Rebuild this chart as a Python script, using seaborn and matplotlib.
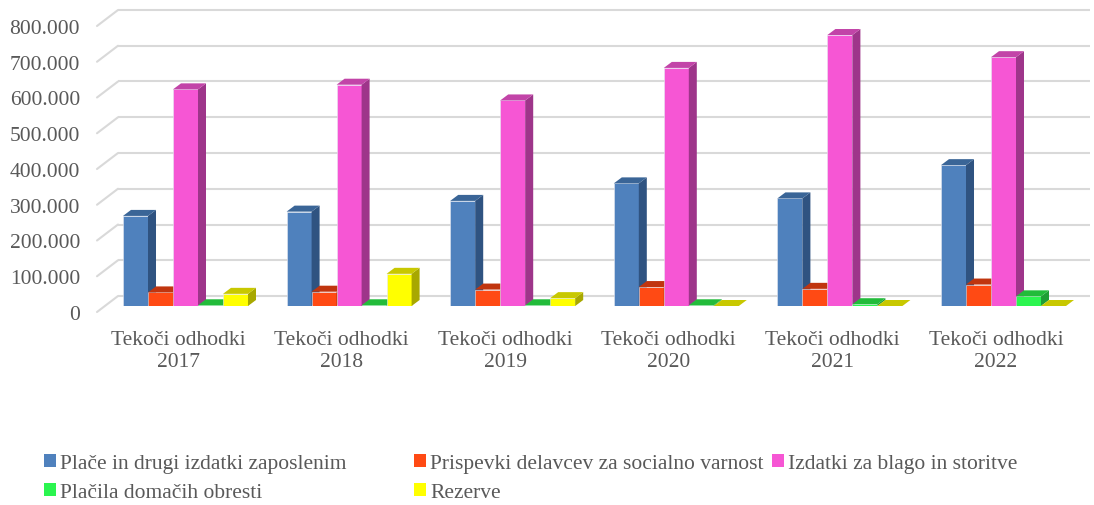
import numpy as np
import pandas as pd
import matplotlib
matplotlib.use("Agg")
import matplotlib.pyplot as plt
import matplotlib.transforms as mtransforms
from matplotlib.patches import Polygon, Patch
from matplotlib.ticker import FuncFormatter
import seaborn as sns

# ---------------- data ----------------
categories = ["Tekoči odhodki\n2017", "Tekoči odhodki\n2018", "Tekoči odhodki\n2019",
              "Tekoči odhodki\n2020", "Tekoči odhodki\n2021", "Tekoči odhodki\n2022"]
series_names = ["Plače in drugi izdatki zaposlenim",
                "Prispevki delavcev za socialno varnost",
                "Izdatki za blago in storitve",
                "Plačila domačih obresti",
                "Rezerve"]
place = [252000, 264000, 294000, 343000, 301000, 394000]
prispevki = [38000, 40000, 46000, 53000, 48000, 60000]
blago = [606000, 619000, 575000, 666000, 758000, 696000]
obresti = [2000, 2000, 2000, 2000, 5000, 27000]
rezerve = [34000, 90000, 22000, 0, 0, 0]
y_ticks = [0, 100000, 200000, 300000, 400000, 500000, 600000, 700000, 800000]

front_colors = ["#4F81BD", "#FF4A14", "#F656D4", "#2BF54F", "#FFFF00"]
side_colors = ["#2F5381", "#A8300C", "#9E358A", "#1F9E35", "#A8A800"]
top_colors = ["#3A6597", "#C0350F", "#C244A8", "#22BB3A", "#C8C800"]

values = [place, prispevki, blago, obresti, rezerve]
df = pd.DataFrame({
    "kategorija": categories * len(series_names),
    "serija": [s for s in series_names for _ in categories],
    "vrednost": [v for vals in values for v in vals],
})

# ---------------- style ----------------
sns.set_style("white")
plt.rcParams["font.family"] = ["Liberation Serif", "DejaVu Serif"]
TXT = "#595959"
FS = 15.5

W, H = 1094, 506
fig = plt.figure(figsize=(W / 100, H / 100), dpi=100)
fig.patch.set_facecolor("white")

# axes placement in pixels
ax_left, ax_w = 103.7, 981.6
ax_bottom, ax_h = 199, 286
ax = fig.add_axes([ax_left / W, ax_bottom / H, ax_w / W, ax_h / H])
ax.set_facecolor("none")

sns.barplot(data=df, x="kategorija", y="vrednost", hue="serija",
            hue_order=series_names, order=categories,
            palette=front_colors, width=0.764, legend=False,
            saturation=1, linewidth=0, ax=ax)

ax.set_xlim(-0.5, 5.5)
ax.set_ylim(0, 800000)
for s in ax.spines.values():
    s.set_visible(False)
ax.set_xlabel("")
ax.set_ylabel("")

px_x = ax_w / 6.0          # pixels per x unit
px_y = ax_h / 800000.0     # pixels per y unit


def dx(p):
    return p / px_x


def dy(p):
    return p / px_y


def px2x(p):
    return (p - ax_left) / px_x - 0.5


# ---------------- walls / gridlines ----------------
grid_c = "#D9D9D9"
for v in y_ticks:
    ax.plot([px2x(118), px2x(1090)], [v + dy(10), v + dy(10)], color=grid_c,
            lw=1.5, clip_on=False, zorder=0.5, solid_capstyle="butt")
    ax.plot([px2x(97), px2x(118)], [v - dy(6), v + dy(10)], color=grid_c,
            lw=1.5, clip_on=False, zorder=0.5)

# ---------------- 3D bar faces ----------------
ncat = len(categories)
ox, oy = dx(8), dy(6)
for i, bar in enumerate(ax.patches[: ncat * len(series_names)]):
    k = i // ncat
    x0, w, h = bar.get_x(), bar.get_width(), bar.get_height()
    z = 2 + 3 * k
    bar.set_zorder(z)
    bar.set_edgecolor("#E6E9F2")
    bar.set_linewidth(0.4)
    side = Polygon([(x0 + w, 0), (x0 + w + ox, oy), (x0 + w + ox, h + oy), (x0 + w, h)],
                   closed=True, facecolor=side_colors[k], edgecolor="none",
                   zorder=z + 1, clip_on=False)
    top = Polygon([(x0, h), (x0 + w, h), (x0 + w + ox, h + oy), (x0 + ox, h + oy)],
                  closed=True, facecolor=top_colors[k], edgecolor="none",
                  zorder=z + 2, clip_on=False)
    ax.add_patch(side)
    ax.add_patch(top)

# ---------------- ticks ----------------
ax.set_yticks(y_ticks)
ax.yaxis.set_major_formatter(FuncFormatter(lambda v, p: f"{v:,.0f}".replace(",", ".")))
ax.tick_params(axis="y", length=0, pad=17, labelsize=FS, labelcolor=TXT)
ax.tick_params(axis="x", length=0, pad=17, labelsize=FS, labelcolor=TXT)
off_y = mtransforms.ScaledTranslation(0, -6 / 100, fig.dpi_scale_trans)
for lab in ax.get_yticklabels():
    lab.set_transform(lab.get_transform() + off_y)
off_x = mtransforms.ScaledTranslation(-7.5 / 100, 0, fig.dpi_scale_trans)
for lab in ax.get_xticklabels():
    lab.set_transform(lab.get_transform() + off_x)
    lab.set_linespacing(1.25)
    lab.set_multialignment("center")

# ---------------- legend ----------------
handles = [Patch(facecolor=c, edgecolor="none") for c in front_colors]
cols = [([0, 3], 44), ([1, 4], 414), ([2], 772)]
for idx, xpix in cols:
    fig.legend([handles[j] for j in idx], [series_names[j] for j in idx],
               loc="upper left", bbox_to_anchor=(xpix / W, 1 - 455 / H),
               frameon=False, fontsize=FS, labelcolor=TXT,
               handlelength=0.55, handleheight=0.55, handletextpad=0.2,
               borderpad=0, borderaxespad=0, labelspacing=0.45)

fig.savefig("out.png", dpi=100)
